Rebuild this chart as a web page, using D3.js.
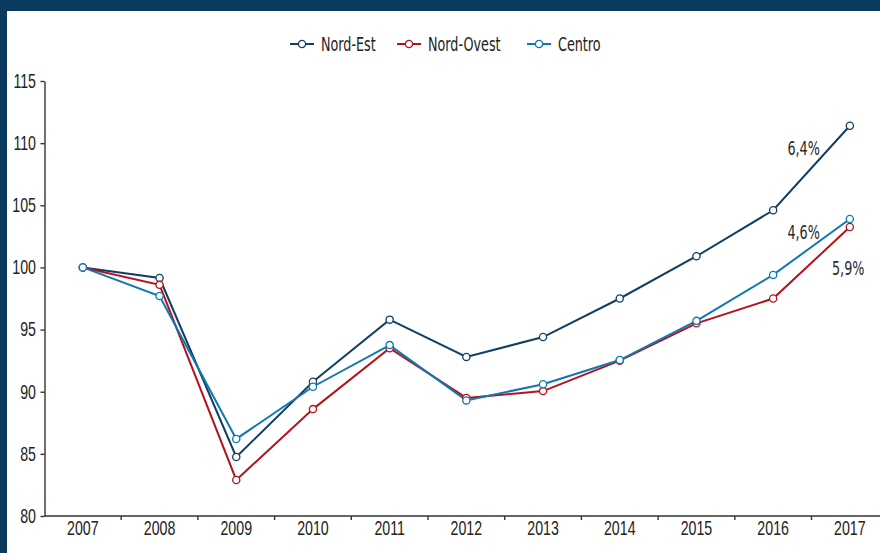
<!DOCTYPE html>
<html>
<head>
<meta charset="utf-8">
<script src="https://cdn.jsdelivr.net/npm/d3@7"></script>
<style>
  body { margin: 0; background: #fff; }
  svg { display: block; font-family: "DejaVu Sans Condensed", "DejaVu Sans", sans-serif; }
  .axis path, .axis line { stroke: #333; stroke-width: 1.4; }
  .axis text { fill: #222; font-size: 20px; }
</style>
</head>
<body>
<svg class="chart"></svg>
<script>
// data (index, 2007 = 100)
var years = ["2007","2008","2009","2010","2011","2012","2013","2014","2015","2016","2017"];
var nordEst   = [100, 99.15, 84.75, 90.8, 95.8, 92.8, 94.4, 97.5, 100.9, 104.6, 111.4];
var nordOvest = [100, 98.6, 82.9, 88.6, 93.5, 89.5, 90.05, 92.5, 95.5, 97.5, 103.25];
var centro    = [100, 97.7, 86.2, 90.4, 93.75, 89.3, 90.6, 92.55, 95.7, 99.4, 103.9];
var yTicks = [80, 85, 90, 95, 100, 105, 110, 115];
var seriesNames = ["Nord-Est", "Nord-Ovest", "Centro"];
var endLabels = ["6,4%", "5,9%", "4,6%"];

var width = 880, height = 553;
var colors = { "Nord-Est": "#123e63", "Nord-Ovest": "#b5121b", "Centro": "#1078b0" };
var squeeze = 0.71;   // no condensed font here, so narrow the text by hand

// narrow a text element horizontally, keeping its anchor point
function condense(sel) {
  sel.each(function(){
    var t = d3.select(this),
        x = +t.attr("x") || 0;
    t.attr("x", x / squeeze).attr("transform", "scale(" + squeeze + ",1)");
  });
}

var chart = d3.select(".chart")
    .attr("width", width)
    .attr("height", height);

// frame
chart.append("rect").attr("x", 0).attr("y", 0).attr("width", width).attr("height", 11).attr("fill", "#0b3a5f");
chart.append("rect").attr("x", 0).attr("y", 0).attr("width", 7).attr("height", height).attr("fill", "#0b3a5f");

var margin = {top: 81, left: 44.5, bottom: 516};

var xScale = d3.scaleBand()
    .domain(years)
    .range([margin.left, margin.left + 76.7 * years.length])
    .padding(0);

var yScale = d3.scaleLinear()
    .domain([80, 115])
    .range([margin.bottom, margin.top]);

// x axis, labels centred in bands, ticks on band edges
var xAxis = chart.append("g")
    .attr("class", "axis x")
    .attr("transform", "translate(0," + margin.bottom + ")")
    .call(d3.axisBottom(xScale).tickSize(0).tickPadding(5).tickSizeOuter(0));
xAxis.select(".domain").attr("d", "M" + margin.left + ",0H" + width);
xAxis.selectAll(".edge")
    .data(years.slice(1))
    .enter().append("line")
      .attr("class", "edge")
      .attr("x1", function(d){ return xScale(d); })
      .attr("x2", function(d){ return xScale(d); })
      .attr("y1", 0).attr("y2", 4);
xAxis.selectAll(".tick text").call(condense);

var yAxis = chart.append("g")
    .attr("class", "axis y")
    .attr("transform", "translate(" + margin.left + ",0)")
    .call(d3.axisLeft(yScale).tickValues(yTicks).tickSize(4).tickPadding(4.5).tickSizeOuter(0));
yAxis.selectAll(".tick text").call(condense);

var data = [
  {name: "Nord-Est", values: nordEst},
  {name: "Nord-Ovest", values: nordOvest},
  {name: "Centro", values: centro}
];

var line = d3.line()
    .x(function(d, i){ return xScale(years[i]) + xScale.bandwidth() / 2; })
    .y(function(d){ return yScale(d); });

data.forEach(function(s){
  chart.append("path")
      .datum(s.values)
      .attr("fill", "none")
      .attr("stroke", colors[s.name])
      .attr("stroke-width", 2)
      .attr("d", line);
});

data.forEach(function(s){
  chart.append("g").selectAll("circle")
      .data(s.values)
      .enter().append("circle")
        .attr("cx", function(d, i){ return xScale(years[i]) + xScale.bandwidth() / 2; })
        .attr("cy", function(d){ return yScale(d); })
        .attr("r", 3.6)
        .attr("fill", "#fff")
        .attr("stroke", colors[s.name])
        .attr("stroke-width", 1.3);
});

// end-of-line growth labels
var lastX = xScale("2017") + xScale.bandwidth() / 2;
var labelPos = [
  {x: lastX - 30, y: yScale(nordEst[10]) + 29, anchor: "end"},
  {x: 832, y: yScale(nordOvest[10]) + 48, anchor: "start"},
  {x: lastX - 30, y: yScale(centro[10]) + 20, anchor: "end"}
];
labelPos.forEach(function(p, i){
  chart.append("g")
      .attr("transform", "translate(" + p.x + "," + p.y + ")")
    .append("text")
      .attr("text-anchor", p.anchor)
      .attr("fill", "#2a2a2a")
      .style("font-size", "20px")
      .text(endLabels[i])
      .call(condense);
});

// legend
var legendX = [290, 397, 527];
var legend = chart.append("g").attr("transform", "translate(0,44)");
seriesNames.forEach(function(name, i){
  var g = legend.append("g").attr("transform", "translate(" + legendX[i] + ",0)");
  g.append("line").attr("x1", 0).attr("x2", 24).attr("y1", 0).attr("y2", 0)
      .attr("stroke", colors[name]).attr("stroke-width", 2);
  g.append("circle").attr("cx", 12).attr("cy", 0).attr("r", 3.6)
      .attr("fill", "#fff").attr("stroke", colors[name]).attr("stroke-width", 1.3);
  g.append("text").attr("x", 31).attr("y", 0).attr("dy", "0.35em")
      .attr("fill", "#222").style("font-size", "20px").text(name)
      .call(condense);
});
</script>
</body>
</html>
